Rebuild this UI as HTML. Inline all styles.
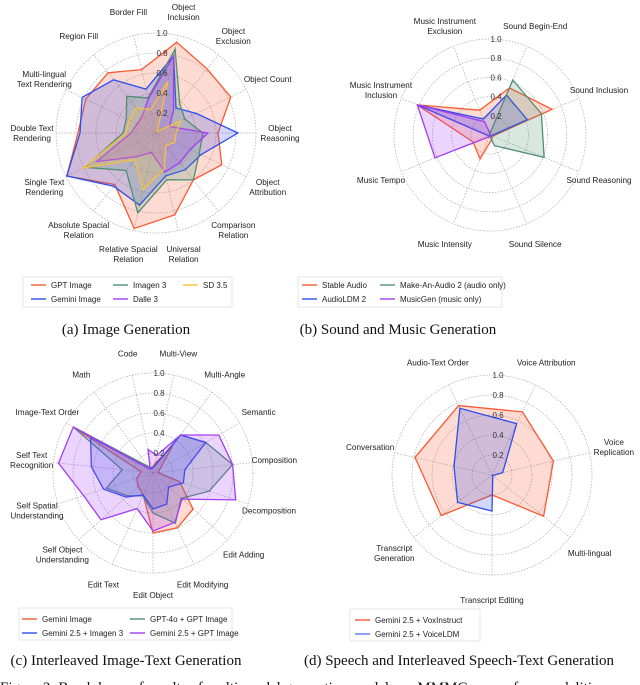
<!DOCTYPE html>
<html><head><meta charset="utf-8">
<style>
html,body{margin:0;padding:0;background:#fff;}
body{width:640px;height:685px;overflow:hidden;position:relative;}
svg{position:absolute;left:0;top:0;}
text{font-family:"Liberation Sans",sans-serif;}
.cap{font-family:"Liberation Serif",serif;font-size:15px;fill:#111;}
</style></head>
<body>
<svg id="fig" width="640" height="685" viewBox="0 0 640 685">
  <rect x="23" y="277" width="209" height="30" fill="#fff" stroke="#e6e6e6"/>
  <rect x="298" y="277" width="204" height="30" fill="#fff" stroke="#e6e6e6"/>
  <rect x="19" y="608" width="213" height="32" fill="#fff" stroke="#e6e6e6"/>
  <rect x="350" y="609" width="130" height="32" fill="#fff" stroke="#e6e6e6"/>
  <text class="cap" x="126" y="334" text-anchor="middle">(a) Image Generation</text>
  <text class="cap" x="398" y="334" text-anchor="middle">(b) Sound and Music Generation</text>
  <text class="cap" x="126" y="665" text-anchor="middle">(c) Interleaved Image-Text Generation</text>
  <text class="cap" x="459" y="665" text-anchor="middle">(d) Speech and Interleaved Speech-Text Generation</text>
  <text class="cap" x="0" y="692">Figure 2: Breakdown of results of multi-modal generation models on MMMG across four modalities</text>
</svg>
<script>
// ---- chart (a) data ----
const aCats = ["Object\nInclusion","Object\nExclusion","Object Count","Object\nReasoning","Object\nAttribution","Comparison\nRelation","Universal\nRelation","Relative Spacial\nRelation","Absolute Spacial\nRelation","Single Text\nRendering","Double Text\nRendering","Multi-lingual\nText Rendering","Region Fill","Border Fill"];
const aGPT    = [0.93,0.82,0.83,0.62,0.73,0.60,0.84,0.98,0.66,0.99,0.78,0.78,0.77,0.65];
const aGemini = [0.79,0.32,0.45,0.82,0.50,0.47,0.44,0.74,0.68,0.99,0.76,0.82,0.68,0.45];
const aImagen = [0.86,0.38,0.32,0.47,0.48,0.60,0.48,0.82,0.48,0.79,0.33,0.33,0.47,0.36];
const aDalle  = [0.79,0.28,0.15,0.52,0.38,0.38,0.40,0.20,0.30,0.66,0.25,0.21,0.22,0.35];
const aSD     = [0.53,0.02,0.28,0.20,0.21,0.16,0.37,0.58,0.34,0.81,0.30,0.30,0.32,0.24];
// ---- chart (b) data ----
const bCats = ["Sound Begin-End","Sound Inclusion","Sound Reasoning","Sound Silence","Music Intensity","Music Tempo","Music Instrument\nInclusion","Music Instrument\nExclusion"];
const bStable = [0.53,0.70,0.03,0.05,0.27,0.19,0.82,0.28];
const bAudioLDM = [0.45,0.42,0.02,0.02,0.02,0.02,0.82,0.18];
const bMakeAn = [0.62,0.58,0.61,0.12,0.01,0.01,0.01,0.01];
const bMusicGen = [0.01,0.01,0.01,0.01,0.02,0.62,0.82,0.15];
// ---- chart (c) data ----
const cCats = ["Multi-View","Multi-Angle","Semantic","Composition","Decomposition","Edit Adding","Edit Modifying","Edit Object","Edit Text","Self Object\nUnderstanding","Self Spatial\nUnderstanding","Self Text\nRecognition","Image-Text Order","Math","Code"];
const cGemini = [0.10,0.33,0.08,0.05,0.28,0.54,0.60,0.60,0.24,0.20,0.17,0.12,0.92,0.05,0.05];
const cGPT4o  = [0.07,0.47,0.61,0.80,0.59,0.38,0.55,0.40,0.25,0.34,0.49,0.31,0.92,0.08,0.05];
const cImagen = [0.07,0.47,0.61,0.32,0.32,0.21,0.34,0.36,0.24,0.36,0.52,0.62,0.72,0.05,0.05];
const cGPTImg = [0.18,0.47,0.76,0.80,0.87,0.39,0.54,0.58,0.39,0.70,0.73,0.95,0.92,0.05,0.24];
// ---- chart (d) data ----
const dCats = ["Voice Attribution","Voice\nReplication","Multi-lingual","Transcript Editing","Transcript\nGeneration","Conversation","Audio-Text Order"];
const dVox = [0.70,0.63,0.66,0.20,0.65,0.79,0.77];
const dVoiceLDM = [0.57,0.11,0.01,0.36,0.44,0.39,0.74];
const ticks = ["0.2","0.4","0.6","0.8","1.0"];
const tickVals = [0.2,0.4,0.6,0.8,1.0];

const NS = "http://www.w3.org/2000/svg";
const svg = document.getElementById("fig");
const COL = {red:"#fa5a32",blue:"#2c4df0",green:"#4f9072",purple:"#a43cf4",yellow:"#f8bf40"};

function mk(tag, attrs, parent){
  const e = document.createElementNS(NS, tag);
  for (const k in attrs) e.setAttribute(k, attrs[k]);
  (parent||svg).appendChild(e);
  return e;
}

function radar(id, cx, cy, R, cats, a0, labR, series){
  const g = mk("g", {});
  
  
  const n = cats.length;
  const ang = i => (a0 + i*360/n) * Math.PI/180;
  const px = (i, v) => cx + Math.sin(ang(i))*v*R;
  const py = (i, v) => cy - Math.cos(ang(i))*v*R;
  tickVals.forEach(t => {
    const c = mk("circle", {cx:cx, cy:cy, r:t*R, fill:"none", stroke:"#aaa", "stroke-width":0.7, "stroke-dasharray":"1.5,1.5"}, g);
    
    
  });
  for (let i=0;i<n;i++){
    const l = mk("line", {x1:cx, y1:cy, x2:px(i,1), y2:py(i,1), stroke:"#aaa", "stroke-width":0.7, "stroke-dasharray":"1.5,1.5"}, g);
    
    
  }
  series.forEach(s => {
    const pts = s.vals.map((v,i)=> px(i,v).toFixed(1)+","+py(i,v).toFixed(1)).join(" ");
    const p = mk("polygon", {points:pts, fill:s.col, "fill-opacity":0.22, stroke:s.col, "stroke-width":1.3, "stroke-linejoin":"miter"}, g);
    
    
  });
  ticks.forEach((t,k) => {
    const tx = mk("text", {x:cx+6, y:cy - tickVals[k]*R + 3, "font-size":8, fill:"#333", "text-anchor":"middle"}, g);
    tx.textContent = t;
    
    
  });
  cats.forEach((c,i) => {
    const lines = c.split("\n");
    const x = cx + Math.sin(ang(i))*labR;
    const y = cy - Math.cos(ang(i))*labR;
    const t = mk("text", {x:x, y:y - (lines.length-1)*5 + 3, "font-size":8.2, fill:"#222", "text-anchor":"middle"}, g);
    
    
    lines.forEach((ln,j) => {
      const ts = mk("tspan", {x:x, dy: j===0 ? 0 : 10}, t);
      ts.textContent = ln;
    });
  });
}

radar("image-gen", 156, 133, 100, aCats, 180/14, 124, [
  {name:"gpt-image", vals:aGPT, col:COL.red},
  {name:"gemini-image", vals:aGemini, col:COL.blue},
  {name:"imagen-3", vals:aImagen, col:COL.green},
  {name:"dalle-3", vals:aDalle, col:COL.purple},
  {name:"sd-3-5", vals:aSD, col:COL.yellow}
]);
radar("sound-music", 490, 135, 96, bCats, 22.5, 118, [
  {name:"stable-audio", vals:bStable, col:COL.red},
  {name:"audioldm-2", vals:bAudioLDM, col:COL.blue},
  {name:"make-an-audio-2", vals:bMakeAn, col:COL.green},
  {name:"musicgen", vals:bMusicGen, col:COL.purple}
]);
radar("image-text", 153, 473, 100, cCats, 12, 122, [
  {name:"gemini-image", vals:cGemini, col:COL.red},
  {name:"gpt4o-gpt-image", vals:cGPT4o, col:COL.green},
  {name:"gemini25-imagen3", vals:cImagen, col:COL.blue},
  {name:"gemini25-gpt-image", vals:cGPTImg, col:COL.purple}
]);
radar("speech", 492, 475, 100, dCats, 180/7, 125, [
  {name:"voxinstruct", vals:dVox, col:COL.red},
  {name:"voiceldm", vals:dVoiceLDM, col:COL.blue}
]);

function legend(id, items){
  items.forEach(it => {
    const l = mk("line", {x1:it[0], y1:it[1], x2:it[0]+15, y2:it[1], stroke:it[3], "stroke-width":1.4});
    
    
    const t = mk("text", {x:it[0]+20, y:it[1]+3, "font-size":8, fill:"#222"});
    t.textContent = it[2];
    
    
  });
}
legend("a", [[31,285,"GPT Image",COL.red],[31,299,"Gemini Image",COL.blue],[113,285,"Imagen 3",COL.green],[113,299,"Dalle 3",COL.purple],[183,285,"SD 3.5",COL.yellow]]);
legend("b", [[302,285,"Stable Audio",COL.red],[302,299,"AudioLDM 2",COL.blue],[380,285,"Make-An-Audio 2 (audio only)",COL.green],[380,299,"MusicGen (music only)",COL.purple]]);
legend("c", [[22,619,"Gemini Image",COL.red],[22,633,"Gemini 2.5 + Imagen 3",COL.blue],[130,619,"GPT-4o + GPT Image",COL.green],[130,633,"Gemini 2.5 + GPT Image",COL.purple]]);
legend("d", [[355,620,"Gemini 2.5 + VoxInstruct",COL.red],[355,634,"Gemini 2.5 + VoiceLDM","#5a78f0"]]);
</script>
</body></html>
